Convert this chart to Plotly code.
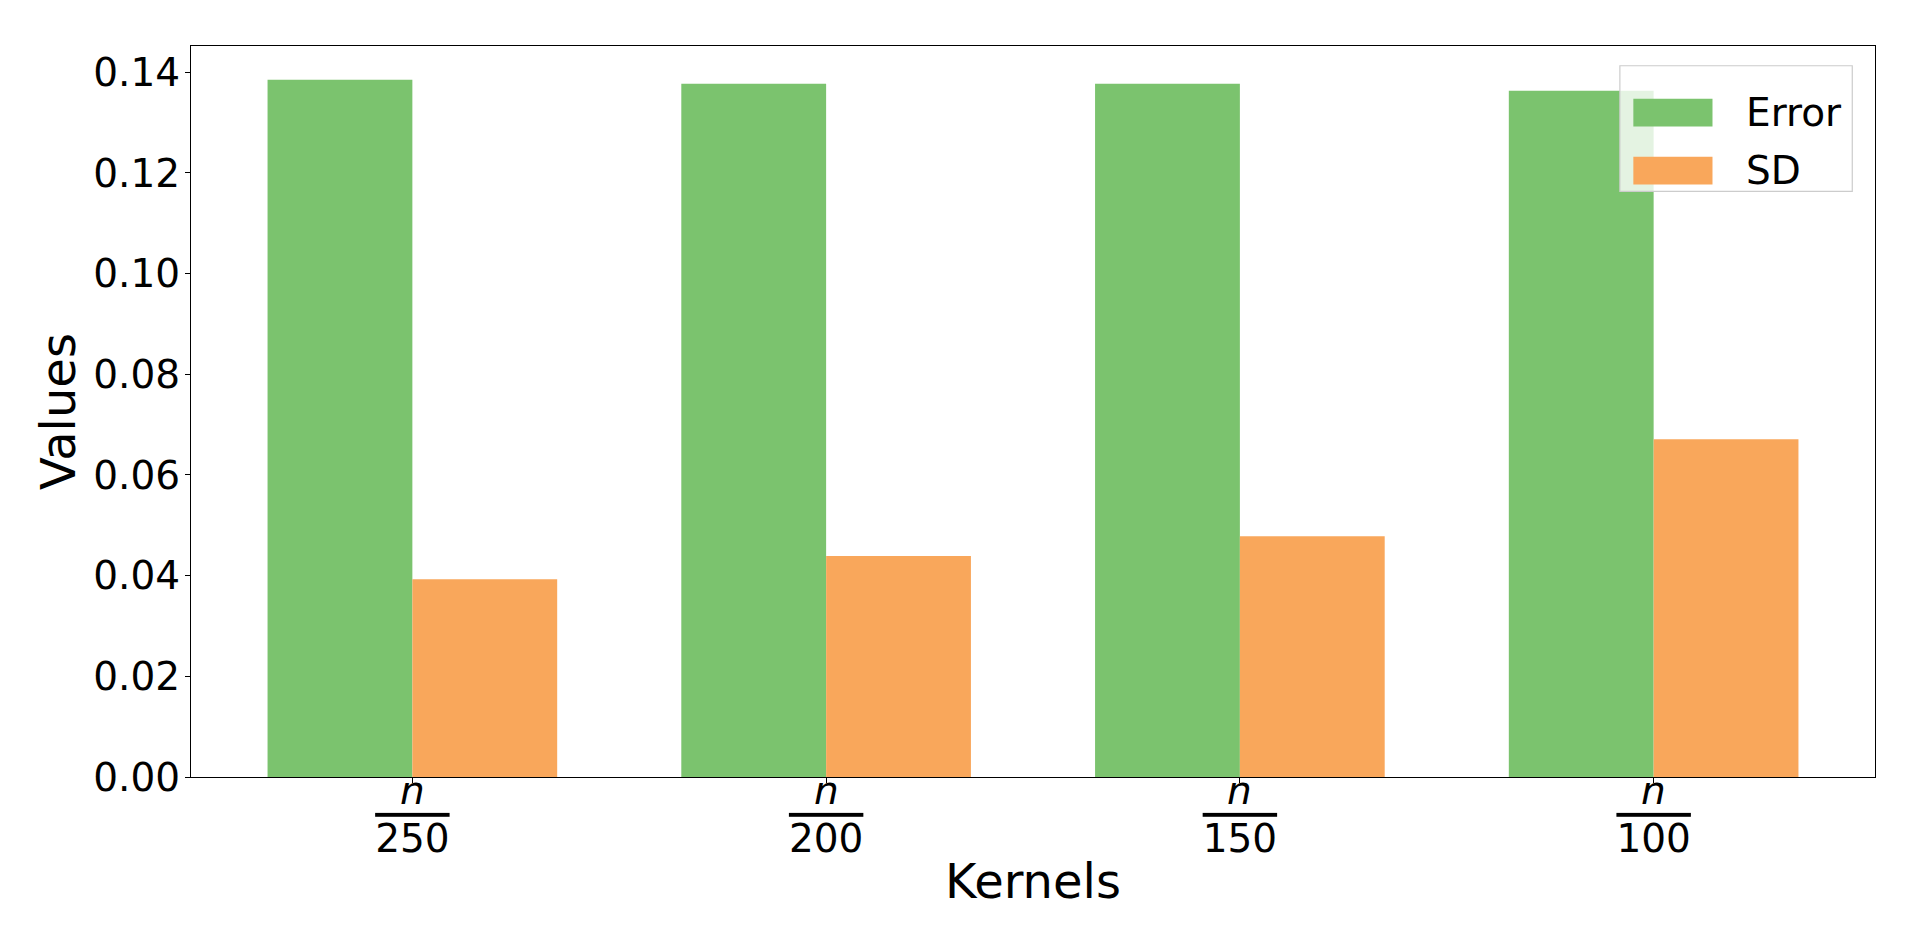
import plotly.graph_objects as go

categories = ["250", "200", "150", "100"]
error_values = [0.1385, 0.1377, 0.1377, 0.1363]
sd_values = [0.0393, 0.0439, 0.0478, 0.0671]
y_ticks = [0.00, 0.02, 0.04, 0.06, 0.08, 0.10, 0.12, 0.14]
series_names = ["Error", "SD"]

GREEN = "#7bc36e"
ORANGE = "#f9a75b"
FONT = "DejaVu Sans"

x_pos = list(range(len(categories)))
tick_text = ["<span style='text-decoration:overline'>%s</span>" % c for c in categories]

fig = go.Figure()
fig.add_trace(go.Bar(x=x_pos, y=error_values, name=series_names[0], marker=dict(color=GREEN, line=dict(width=0))))
fig.add_trace(go.Bar(x=x_pos, y=sd_values, name=series_names[1], marker=dict(color=ORANGE, line=dict(width=0))))

# page has an 8px body margin, so margins are compensated
fig.update_layout(
    width=1920, height=949,
    margin=dict(l=183, r=53, t=38, b=180),
    paper_bgcolor="white", plot_bgcolor="white",
    barmode="group", bargap=0.3, bargroupgap=0,
    showlegend=False,
    font=dict(family=FONT, color="black", size=39),
)
fig.update_xaxes(
    range=[-0.535, 3.535], tickmode="array", tickvals=x_pos, ticktext=tick_text,
    showline=True, linecolor="black", linewidth=1.2, mirror=True,
    ticks="outside", ticklen=5, tickwidth=1.2, tickcolor="black",
    showgrid=False, zeroline=False, ticklabelstandoff=22,
    tickfont=dict(family=FONT, size=39, color="black"),
    title=dict(text="Kernels", font=dict(family=FONT, size=48, color="black"), standoff=4),
)
fig.update_yaxes(
    range=[0, 0.1452], tickmode="array", tickvals=y_ticks,
    ticktext=["%.2f" % v for v in y_ticks],
    showline=True, linecolor="black", linewidth=1.2, mirror=True,
    ticks="outside", ticklen=5, tickwidth=1.2, tickcolor="black",
    showgrid=False, zeroline=False, ticklabelstandoff=-3,
    tickfont=dict(family=FONT, size=39, color="black"),
    title=dict(text="Values", font=dict(family=FONT, size=48, color="black"), standoff=2),
)

# numerator "n" of each fractional tick label
for xp in x_pos:
    fig.add_annotation(xref="x", yref="paper", x=xp, y=-0.0185, text="<i>n</i>", showarrow=False,
                       xanchor="center", yanchor="middle", font=dict(family=FONT, size=39, color="black"))

# Legend box (matplotlib-style)
fig.add_shape(type="rect", xref="paper", yref="paper", x0=0.8485, x1=0.9865, y0=0.801, y1=0.973,
              fillcolor="rgba(255,255,255,0.8)", line=dict(color="#cccccc", width=1.2), layer="above")
legend_colors = [GREEN, ORANGE]
for i, (nm, col) in enumerate(zip(series_names, legend_colors)):
    yc = 0.909 - i * 0.0795
    fig.add_shape(type="rect", xref="paper", yref="paper", x0=0.8565, x1=0.9035, y0=yc - 0.019, y1=yc + 0.019,
                  fillcolor=col, line=dict(width=0), layer="above")
    fig.add_annotation(xref="paper", yref="paper", x=0.9225, y=yc, text=nm, showarrow=False,
                       xanchor="left", yanchor="middle", font=dict(family=FONT, size=39, color="black"))

fig.write_html("out.html")
